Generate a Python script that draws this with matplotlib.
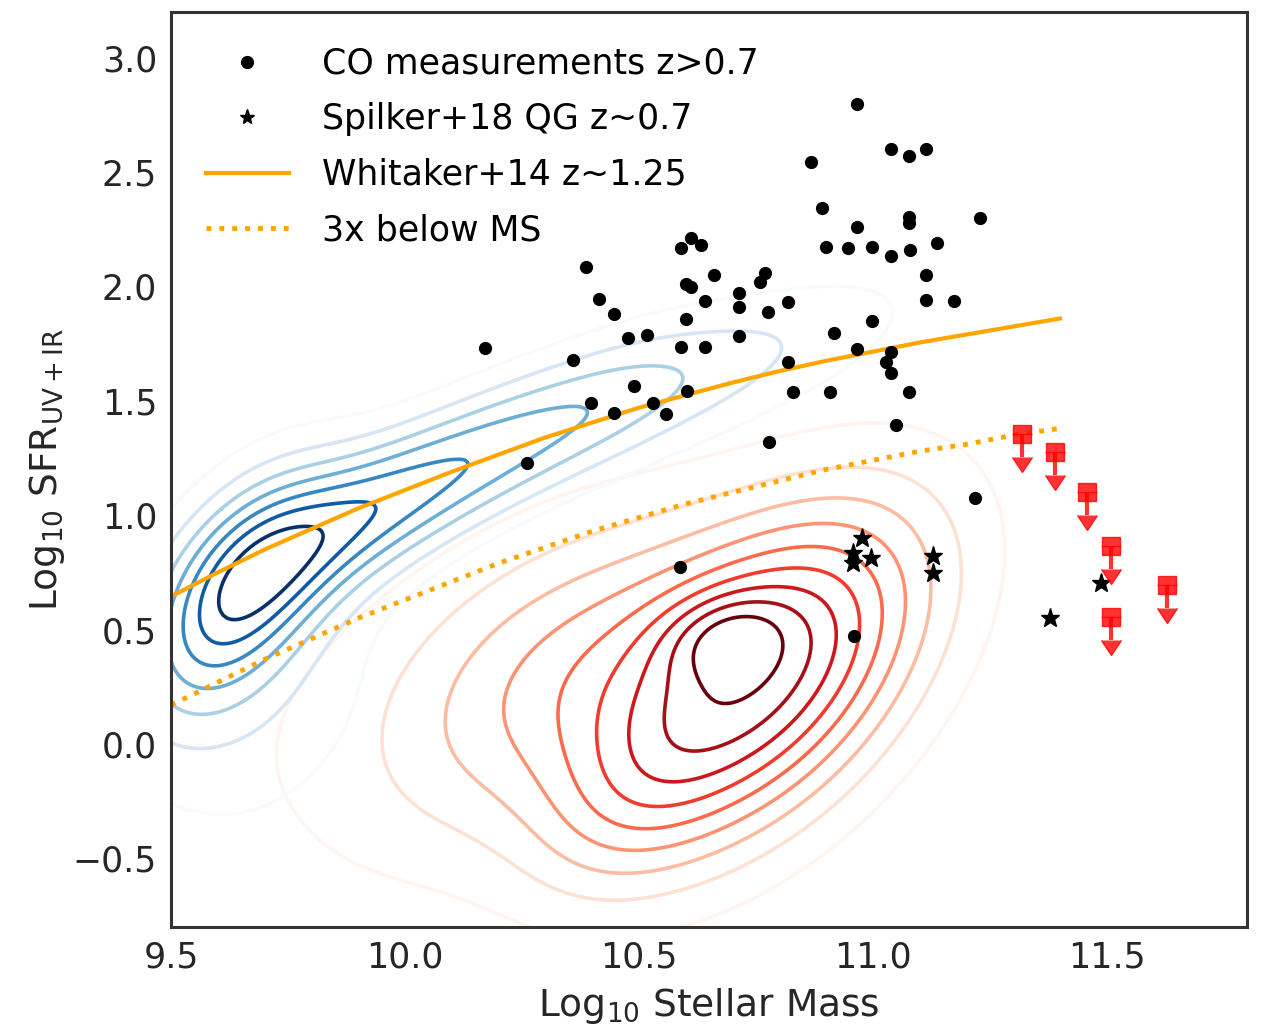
import numpy as np
import matplotlib
matplotlib.use("Agg")
import matplotlib.pyplot as plt
from matplotlib.lines import Line2D

# CO-detected galaxies at z > 0.7 (log M*, log SFR)
co_mass = [10.611, 10.590, 10.633, 10.388, 10.661, 10.770, 10.758, 10.600, 10.612,
           10.715, 10.415, 10.642, 10.715, 10.818, 10.777, 10.447, 10.600, 10.518,
           10.477, 10.715, 10.590, 10.642, 10.171, 10.360, 10.818, 10.489, 10.602,
           10.830, 10.398, 10.530, 10.447, 10.559, 10.779, 10.261, 10.967, 11.040,
           11.078, 11.113, 10.867, 10.891, 11.078, 11.078, 11.229, 10.967, 10.901,
           10.948, 10.999, 11.040, 11.079, 11.138, 11.113, 11.113, 11.174, 10.999,
           10.918, 10.967, 11.040, 11.029, 11.040, 10.909, 11.078, 11.049, 11.218,
           10.589, 10.959]
co_sfr = [2.211, 2.167, 2.181, 2.087, 2.050, 2.060, 2.018, 2.011, 1.996,
          1.973, 1.945, 1.938, 1.912, 1.934, 1.890, 1.878, 1.857, 1.789,
          1.776, 1.784, 1.737, 1.737, 1.730, 1.679, 1.671, 1.566, 1.544,
          1.540, 1.489, 1.492, 1.448, 1.443, 1.319, 1.227, 2.798, 2.601,
          2.570, 2.601, 2.544, 2.342, 2.305, 2.276, 2.301, 2.261, 2.174,
          2.167, 2.174, 2.135, 2.160, 2.189, 2.050, 1.941, 1.938, 1.849,
          1.795, 1.725, 1.712, 1.669, 1.621, 1.540, 1.540, 1.395, 1.075,
          0.775, 0.472]

# Spilker+18 quiescent galaxies
qg_mass = [10.978, 10.958, 10.958, 10.997, 11.128, 11.128, 11.488, 11.378]
qg_sfr = [0.899, 0.834, 0.793, 0.812, 0.822, 0.746, 0.705, 0.550]

# Spilker+18 upper limits
lim_mass = [11.319, 11.389, 11.458, 11.509, 11.509, 11.628]
lim_sfr = [1.355, 1.275, 1.103, 0.866, 0.554, 0.696]
lim_len = 0.10

# Whitaker+14 main sequence and 3x below it
ms_mass = [9.5, 9.6, 9.7, 9.8, 9.9, 10.0, 10.1, 10.2, 10.3, 10.4,
           10.5, 10.6, 10.7, 10.8, 10.9, 11.0, 11.1, 11.2, 11.3, 11.4]
ms_sfr = [0.645, 0.75, 0.85, 0.94, 1.03, 1.11, 1.19, 1.265, 1.34, 1.405,
          1.47, 1.525, 1.58, 1.63, 1.675, 1.715, 1.755, 1.79, 1.825, 1.86]
ms_low_sfr = [0.17, 0.27, 0.37, 0.46, 0.55, 0.63, 0.71, 0.79, 0.86, 0.93,
              0.99, 1.05, 1.10, 1.15, 1.20, 1.24, 1.28, 1.31, 1.35, 1.38]

# smoothed parent-sample densities, written as sums of 2D gaussians:
# centre (mass, sfr), widths, correlation and peak height of each term
sf_mx = [9.64, 9.82, 10.00, 10.22, 10.45, 10.68, 10.90, 11.10, 9.70, 9.75]
sf_my = [0.66, 0.90, 1.10, 1.31, 1.50, 1.64, 1.78, 1.88, 0.15, 1.00]
sf_sx = [0.14, 0.15, 0.15, 0.15, 0.15, 0.15, 0.15, 0.15, 0.22, 0.30]
sf_sy = [0.36, 0.25, 0.25, 0.25, 0.25, 0.25, 0.25, 0.25, 0.50, 0.35]
sf_rho = [0.5, 0.55, 0.55, 0.55, 0.55, 0.55, 0.55, 0.55, 0.3, 0.7]
sf_amp = [1.60, 0.72, 0.85, 0.80, 0.70, 0.45, 0.27, 0.11, 0.42, 0.10]

q_mx = [10.77, 10.32, 9.75, 10.68, 10.48]
q_my = [0.30, 0.30, 0.10, 0.48, -0.25]
q_sx = [0.25, 0.27, 0.50, 0.09, 0.15]
q_sy = [0.53, 0.50, 0.70, 0.13, 0.30]
q_rho = [0.50, 0.45, 0.30, 0.20, 0.40]
q_amp = [0.88, 0.37, 0.08, 0.20, 0.15]


def mixture(xx, yy, mx, my, sx, sy, rho, amp):
    z = np.zeros_like(xx)
    for m1, m2, s1, s2, r, a in zip(mx, my, sx, sy, rho, amp):
        u = (xx - m1) / s1
        v = (yy - m2) / s2
        q = (u ** 2 - 2 * r * u * v + v ** 2) / (1 - r ** 2)
        z += a * np.exp(-0.5 * q)
    return z


plt.rcParams["font.family"] = "DejaVu Sans"
fig = plt.figure(figsize=(12.61, 10.33), dpi=100)
ax = fig.add_axes([0.1356, 0.1026, 0.8533, 0.8858])

gx, gy = np.meshgrid(np.linspace(9.0, 12.3, 400), np.linspace(-1.6, 3.6, 400))
z_sf = mixture(gx, gy, sf_mx, sf_my, sf_sx, sf_sy, sf_rho, sf_amp)
z_q = mixture(gx, gy, q_mx, q_my, q_sx, q_sy, q_rho, q_amp)

ax.contour(gx, gy, z_q, levels=z_q.max() * np.arange(1, 10) / 10.0,
           cmap="Reds", linewidths=2.6)
ax.contour(gx, gy, z_sf, levels=z_sf.max() * np.arange(1, 8) / 8.0,
           cmap="Blues", linewidths=2.6)

ax.plot(ms_mass, ms_sfr, color="orange", lw=3)
ax.plot(ms_mass, ms_low_sfr, color="orange", lw=3.5, ls=":")

ax.plot(co_mass, co_sfr, "o", color="black", ms=8.5, ls="none")
ax.plot(qg_mass, qg_sfr, "*", color="black", ms=14, ls="none")
ax.errorbar(lim_mass, lim_sfr, yerr=lim_len, uplims=True, fmt="s",
            color="red", alpha=0.8, ms=13, elinewidth=3, capsize=7)

handles = [
    Line2D([], [], marker="o", color="black", ls="none", ms=8.5),
    Line2D([], [], marker="*", color="black", ls="none", ms=11),
    Line2D([], [], color="orange", lw=3),
    Line2D([], [], color="orange", lw=3.5, ls=":"),
]
labels = ["CO measurements z>0.7", "Spilker+18 QG z~0.7",
          "Whitaker+14 z~1.25", "3x below MS"]
ax.legend(handles, labels, loc="upper left", frameon=False, fontsize=25,
          handlelength=2.4, labelspacing=0.62, handletextpad=0.95,
          borderaxespad=0.6)

ax.set_xlim(9.5, 11.8)
ax.set_ylim(-0.8, 3.2)
ax.set_xticks([9.5, 10.0, 10.5, 11.0, 11.5])
ax.set_yticks([-0.5, 0.0, 0.5, 1.0, 1.5, 2.0, 2.5, 3.0])
ax.tick_params(length=0, labelsize=25, pad=10, colors="#262626")
ax.set_xlabel(r"Log$_{10}$ Stellar Mass", fontsize=27, color="#262626",
              labelpad=8)
ax.set_ylabel(r"Log$_{10}$ SFR$_{\rm UV+IR}$", fontsize=27, color="#262626")
for sp in ax.spines.values():
    sp.set_linewidth(2.2)
    sp.set_color("#333333")

fig.savefig("out.png", dpi=100)
